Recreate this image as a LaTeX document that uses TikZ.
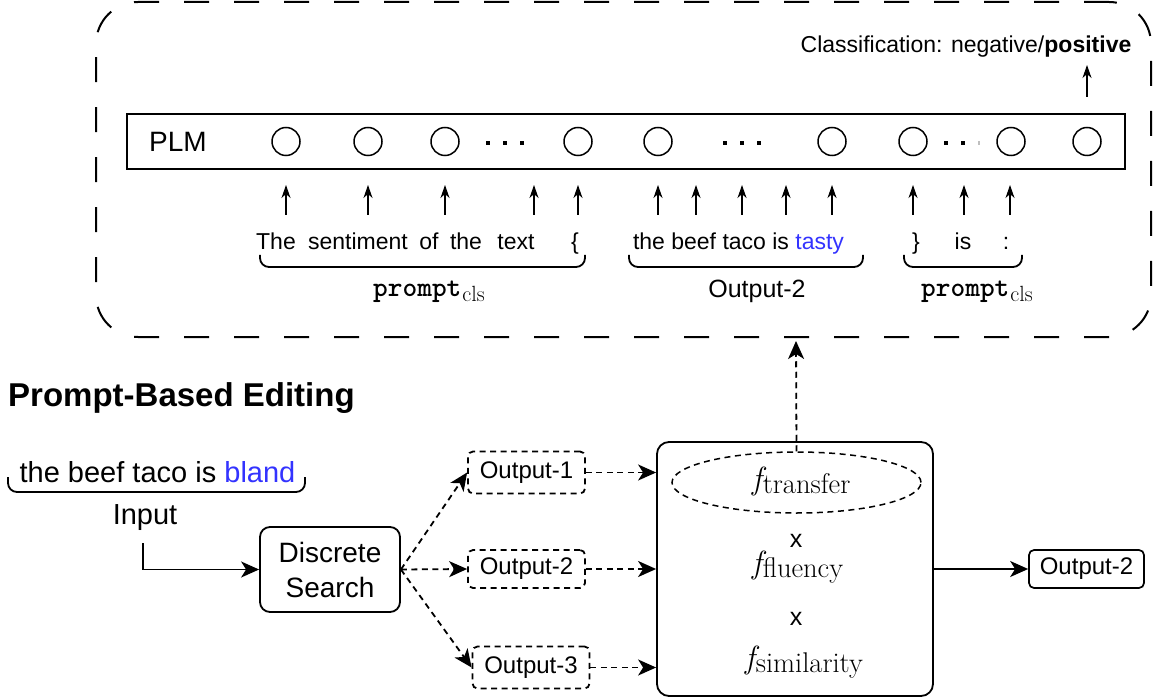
\documentclass[tikz,border=0pt]{standalone}
\usepackage[no-math]{fontspec}
\setmainfont{Liberation Sans}
\newfontfamily\lmr{Latin Modern Roman}
\usetikzlibrary{arrows.meta,shapes.geometric}
\definecolor{txtblue}{RGB}{51,51,255}
\newcommand{\ffunc}[1]{{\lmr\itshape\fontsize{32}{32}\selectfont f}\kern1pt\raisebox{-4.5pt}{\lmr\fontsize{28.5}{28.5}\selectfont #1}}
\newcommand{\promptcls}{{\ttfamily\bfseries\fontsize{28}{28}\selectfont prompt}\kern1pt\raisebox{-5pt}{\lmr\fontsize{22}{22}\selectfont cls}}
\begin{document}
\begin{tikzpicture}[x=1pt,y=-1pt,
  font=\fontsize{23}{27}\selectfont,
  txt/.style={inner sep=0pt, anchor=base},
  bigarr/.style={-{Stealth[length=18pt,width=16pt,inset=5pt]}, line width=1.8pt},
  smallarr/.style={-{Stealth[length=13pt,width=9pt,inset=4pt]}, line width=1.1pt},
  sdash/.style={dash pattern=on 6pt off 4.5pt},
  circ/.style={circle, draw, line width=1.5pt, minimum size=28pt, inner sep=0pt},
  obox/.style={draw, sdash, line width=1.8pt, rounded corners=5pt, minimum width=117pt, minimum height=42pt, inner sep=0pt, font=\fontsize{24}{28}\selectfont},
  bracestyle/.style={line width=1.8pt, rounded corners=9pt},
  fmath/.style={inner sep=0pt, anchor=base west},
]
\useasboundingbox (0,0) rectangle (1161,700);

% ---------- top panel ----------
\node[draw, line width=2pt, dash pattern=on 25pt off 25pt, rounded corners=42pt,
      minimum width=1055pt, minimum height=335pt, inner sep=0pt] (outer) at (623.5,169.5) {};

\node[draw, line width=2.2pt, minimum width=998pt, minimum height=55pt, inner sep=0pt] (plm) at (626,141.5) {};
\node[inner sep=0pt, font=\fontsize{28}{32}\selectfont] (plmlabel) at (178,141.5) {PLM};

\foreach \x [count=\i] in {286,368,445,578,658,832,913,1011,1087}
  \node[circ] (c\i) at (\x,141.5) {};

\foreach \x in {488,505,522,725,742,759,946,963}
  \fill (\x-2.2,143-2.2) rectangle ++(4.4,4.4);
\fill[black!25] (979-1.2,143-2) rectangle ++(2.4,4);

\foreach \x in {286,368,445,534,578,658,696,742,786,832,913,964,1010}
  \draw[smallarr] (\x,215) -- (\x,185);

\node[txt] (cls) at (966,52.5) {Classification: negative/\textbf{positive}};
\coordinate (clsfoot) at (1087,97);
\coordinate (clstip) at (1087,65);
\draw[smallarr] (clsfoot) -- (clstip);

% words
\node[txt] (w1) at (276,250) {The};
\node[txt] (w2) at (358,250) {sentiment};
\node[txt] (w3) at (429,250) {of};
\node[txt] (w4) at (466,250) {the};
\node[txt] (w5) at (516,250) {text};
\node[txt] (w6) at (575,250) {\{};
\node[txt] (w7) at (738.5,250) {the beef taco is \textcolor{txtblue}{tasty}};
\node[txt] (w8) at (916,250) {\}};
\node[txt] (w9) at (963,250) {is};
\node[txt] (w10) at (1006,250) {:};

\draw[bracestyle] (260,255) -- (260,267) -- (585,267) -- (585,255);
\draw[bracestyle] (629,255) -- (629,267) -- (863,267) -- (863,255);
\draw[bracestyle] (904,255) -- (904,267) -- (1022,267) -- (1022,255);

\node[txt, anchor=base west] (p1) at (373,297) {\promptcls};
\node[txt, font=\fontsize{25}{29}\selectfont] (o2lab) at (757,298) {Output-2};
\node[txt, anchor=base west] (p2) at (921,297) {\promptcls};

% ---------- bottom ----------
\node[txt, anchor=base west, font=\bfseries\fontsize{33}{36}\selectfont] (title) at (8,406) {Prompt-Based Editing};

\node[txt, font=\fontsize{29}{33}\selectfont] (intext) at (157.5,482) {the beef taco is \textcolor{txtblue}{bland}};
\draw[bracestyle] (8,477) -- (8,492) -- (305,492) -- (305,477);
\node[txt, font=\fontsize{29}{33}\selectfont] (inlabel) at (145,524) {Input};

\node[draw, line width=1.8pt, rounded corners=10pt, minimum width=140pt, minimum height=85pt,
      align=center, font=\fontsize{28}{35}\selectfont, inner sep=0pt] (ds) at (330,569.5) {Discrete\\Search};

\node[obox] (o1) at (526.5,472.5) {Output-1};
\node[obox, minimum height=38pt] (o2) at (526.5,569) {Output-2};
\node[obox] (o3) at (531,667.5) {Output-3};

\node[draw, line width=1.8pt, rounded corners=12pt, minimum width=276pt, minimum height=254pt, inner sep=0pt] (fb) at (795,569) {};
\node[ellipse, draw, sdash, line width=1.5pt, minimum width=249pt, minimum height=61pt, inner sep=0pt] (el) at (796.5,482.5) {};
\node[fmath] (ft) at (752,489) {\ffunc{transfer}};
\node[inner sep=0pt, font=\fontsize{25}{28}\selectfont] (x1) at (796,541) {x};
\node[fmath] (ff) at (752,573) {\ffunc{fluency}};
\node[inner sep=0pt, font=\fontsize{25}{28}\selectfont] (x2) at (796,619) {x};
\node[fmath] (fsim) at (745,668) {\ffunc{similarity}};

\node[draw, line width=1.7pt, rounded corners=5pt, minimum width=115pt, minimum height=38pt, inner sep=0pt,
      font=\fontsize{24}{28}\selectfont] (out) at (1086.5,569) {Output-2};

% connectors
\coordinate (inp) at (143,543);
\draw[bigarr] (inp) |- (ds.west);
\draw[bigarr, sdash] (ds.east) -- (o1.west);
\draw[bigarr, sdash] (ds.east) -- (o2.west);
\draw[bigarr, sdash] (ds.east) -- (o3.west);
\draw[bigarr, sdash] (o1.east) -- (o1.east -| fb.west);
\draw[bigarr, sdash] (o2.east) -- (o2.east -| fb.west);
\draw[bigarr, sdash] (o3.east) -- (o3.east -| fb.west);
\coordinate (uptip) at (796,341);
\draw[bigarr, sdash] (el.north) -- (uptip);
\draw[bigarr] (fb.east) -- (out.west);
\end{tikzpicture}
\end{document}
